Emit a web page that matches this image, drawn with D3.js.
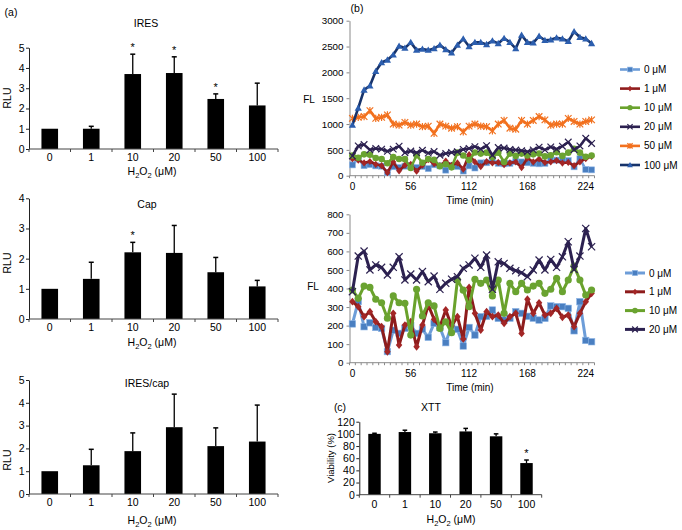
<!DOCTYPE html>
<html><head><meta charset="utf-8">
<script src="https://cdn.jsdelivr.net/npm/d3@7"></script>
<style>body{margin:0;background:#fff} svg text{font-family:"Liberation Sans",Arial,Helvetica,sans-serif;fill:#000}</style>
</head><body><svg id="c" width="682" height="530"></svg>
<script>
// ---------- data ----------
const doses = ["0","1","10","20","50","100"];
const iresMean = [1.0, 1.0, 3.7, 3.75, 2.47, 2.15];
const iresErr  = [0, 0.12, 0.98, 0.8, 0.25, 1.1];
const iresSig  = [false,false,true,true,true,false];
const capMean  = [1.0, 1.33, 2.21, 2.19, 1.55, 1.08];
const capErr   = [0, 0.55, 0.33, 0.91, 0.49, 0.2];
const capSig   = [false,false,true,false,false,false];
const ratioMean= [1.0, 1.26, 1.88, 2.93, 2.1, 2.3];
const ratioErr = [0, 0.7, 0.8, 1.45, 0.8, 1.6];
const ratioSig = [false,false,false,false,false,false];
const xttMean  = [100, 103, 101, 104, 96, 52];
const xttErr   = [1, 3, 2, 5, 4, 5];
const xttSig   = [false,false,false,false,false,true];
const rluTicks5 = [0,1,2,3,4,5];
const rluTicks4 = [0,1,2,3,4];
const xttTicks  = [0,20,40,60,80,100,120];
const flTicksTop = [0,500,1000,1500,2000,2500,3000];
const flTicksBot = [0,100,200,300,400,500,600,700,800];
const timeLabels = [0,56,112,168,224];
const tMin = [0,5.6,11.2,16.8,22.4,28,33.6,39.2,44.8,50.4,56,61.6,67.2,72.8,78.4,84,89.6,95.2,100.8,106.4,112,117.6,123.2,128.8,134.4,140,145.6,151.2,156.8,162.4,168,173.6,179.2,184.8,190.4,196,201.6,207.2,212.8,218.4,224,229.6];
const s0   = [209,330,194,215,190,185,60,175,158,185,200,158,180,137,212,190,108,200,180,90,190,149,248,250,284,239,230,240,275,266,250,240,230,239,306,302,302,293,172,329,120,113];
const s1   = [329,302,248,275,221,194,59,266,95,203,221,86,203,311,234,194,284,198,248,128,406,266,176,275,248,257,212,248,266,158,342,266,323,257,266,293,245,257,194,266,329,374];
const s10  = [392,347,413,406,342,323,240,360,323,320,149,396,252,323,306,185,221,162,446,391,302,450,428,446,360,446,266,428,383,428,392,413,428,374,396,455,383,446,521,446,365,392];
const s20  = [383,575,602,500,527,514,473,514,571,446,478,446,491,437,467,396,428,450,464,509,527,563,514,580,396,544,535,509,496,485,464,500,553,500,557,514,571,652,503,575,724,625];
const s50  = [1110,1130,1145,1260,1110,1130,1175,1000,980,1030,980,1000,950,960,820,1000,960,920,950,850,960,1000,960,950,870,1000,1070,920,900,1070,1000,1070,1145,1080,980,1000,1000,1110,1050,1000,1050,1080];
const s100 = [980,1310,1660,1740,2020,2190,2240,2340,2510,2470,2580,2430,2450,2430,2460,2530,2440,2380,2530,2650,2500,2580,2580,2540,2610,2560,2660,2580,2460,2720,2580,2570,2700,2620,2630,2670,2650,2600,2790,2680,2650,2560];
const seriesNames = ["0 μM","1 μM","10 μM","20 μM","50 μM","100 μM"];

// ---------- helpers ----------
const svg = d3.select("#c");
function txt(g, x, y, s, size, anchor) {
  return g.append("text").attr("x",x).attr("y",y).attr("font-size",size||10.5)
    .attr("text-anchor",anchor||"middle").text(s);
}
function h2o2(g, cx, y) {
  const t = g.append("text").attr("x",cx).attr("y",y).attr("text-anchor","middle").attr("font-size",10.5);
  t.append("tspan").text("H");
  t.append("tspan").attr("font-size",7.5).attr("dy",2.5).text("2");
  t.append("tspan").attr("dy",-2.5).text("O");
  t.append("tspan").attr("font-size",7.5).attr("dy",2.5).text("2");
  t.append("tspan").attr("dy",-2.5).text(" (μM)");
}
function styleAxis(a, color, size) {
  a.attr("font-family",null).attr("font-size",null);
  a.selectAll("path,line").attr("stroke",color);
  a.selectAll("text").attr("font-size",size).attr("fill","#000");
}

function barPanel(o) {
  const g = svg.append("g");
  const x = d3.scaleBand().domain(doses).range([o.xl,o.xr]).paddingInner(o.pad).paddingOuter(o.pad/2);
  const y = d3.scaleLinear().domain([0,o.max]).range([o.yb,o.yt]);
  g.selectAll("rect").data(o.mean).join("rect")
    .attr("x",(d,i)=>x(doses[i])).attr("width",x.bandwidth())
    .attr("y",d=>y(d)).attr("height",d=>o.yb-y(d)).attr("fill","#000");
  o.err.forEach((e,i)=>{
    const cx = x(doses[i])+x.bandwidth()/2;
    const top = y(o.mean[i]+e);
    if (e>0) {
      g.append("line").attr("x1",cx).attr("x2",cx).attr("y1",y(o.mean[i])).attr("y2",top).attr("stroke","#000").attr("stroke-width",1.3);
      g.append("line").attr("x1",cx-o.cap).attr("x2",cx+o.cap).attr("y1",top).attr("y2",top).attr("stroke","#000").attr("stroke-width",1.5);
    }
    if (o.sig[i]) txt(g,cx,top-3,"*",11);
  });
  const ya = g.append("g").attr("transform",`translate(${o.xl},0)`)
    .call(d3.axisLeft(y).tickValues(o.ticks).tickSize(3).tickPadding(o.ypad).tickSizeOuter(0).tickFormat(d3.format("d")));
  styleAxis(ya,"#222",10.5);
  const xa = g.append("g").attr("transform",`translate(0,${o.yb})`)
    .call(d3.axisBottom(x).tickSize(0).tickPadding(o.xpad));
  styleAxis(xa,"#444",10.5);
  xa.select(".domain").remove();
  g.append("line").attr("x1",o.xl).attr("x2",o.xr).attr("y1",o.yb).attr("y2",o.yb).attr("stroke","#444");
  const st = x.step();
  for (let i=0;i<=doses.length;i++) {
    g.append("line").attr("x1",o.xl+i*st).attr("x2",o.xl+i*st).attr("y1",o.yb).attr("y2",o.yb+3).attr("stroke","#444");
  }
  return g;
}

// ---------- panel (a) ----------
txt(svg,11,16,"(a)",10.5);
let g;
g = barPanel({xl:29,xr:278,yb:149,yt:47.7,max:5,ticks:rluTicks5,mean:iresMean,err:iresErr,sig:iresSig,pad:0.6,cap:2.5,ypad:1.5,xpad:4.5});
txt(g,146,27,"IRES",10.5);
h2o2(g,152,175);
g.append("text").attr("transform","translate(11,98) rotate(-90)").attr("text-anchor","middle").attr("font-size",10.5).text("RLU");

g = barPanel({xl:29,xr:278,yb:319,yt:198.3,max:4,ticks:rluTicks4,mean:capMean,err:capErr,sig:capSig,pad:0.6,cap:2.5,ypad:1.5,xpad:4.5});
txt(g,147,208,"Cap",10.5);
h2o2(g,152,346);
g.append("text").attr("transform","translate(11,263) rotate(-90)").attr("text-anchor","middle").attr("font-size",10.5).text("RLU");

g = barPanel({xl:29,xr:278,yb:494,yt:380,max:5,ticks:rluTicks5,mean:ratioMean,err:ratioErr,sig:ratioSig,pad:0.6,cap:2.5,ypad:1.5,xpad:4.5});
txt(g,147,387,"IRES/cap",10.5);
h2o2(g,152,524);
g.append("text").attr("transform","translate(11,460) rotate(-90)").attr("text-anchor","middle").attr("font-size",10.5).text("RLU");

// ---------- panel (c) ----------
txt(svg,340,411,"(c)",10.5);
g = barPanel({xl:359.3,xr:541.7,yb:494.7,yt:421.7,max:120,ticks:xttTicks,mean:xttMean,err:xttErr,sig:xttSig,pad:0.59,cap:2.3,ypad:1.5,xpad:5.5});
txt(g,431,410.5,"XTT",10.5);
h2o2(g,451,523);
g.append("text").attr("transform","translate(334,458) rotate(-90)").attr("text-anchor","middle").attr("font-size",9.5).text("Viability (%)");

// ---------- panel (b) ----------
txt(svg,357,12,"(b)",10.5);
const lineColors = ["#6d9dd8","#8e1c1c","#6aa22c","#2c2150","#f2711f","#17336b"];
const markFill   = ["#4a7fc1","#a32626","#6aa331","#2c2150","#f2711f","#2c5eae"];
const markType   = ["square","diamond","circle","x","star","triangle"];

function drawMarker(g, type, cx, cy, s, i) {
  const c = markFill[i];
  if (type==="square") g.append("rect").attr("x",cx-s/2).attr("y",cy-s/2).attr("width",s).attr("height",s).attr("fill",c).attr("stroke","#8fb6e6").attr("stroke-width",0.6);
  else if (type==="diamond") g.append("path").attr("d",`M${cx},${cy-s*0.6}L${cx+s*0.5},${cy}L${cx},${cy+s*0.6}L${cx-s*0.5},${cy}Z`).attr("fill",c);
  else if (type==="circle") g.append("circle").attr("cx",cx).attr("cy",cy).attr("r",s*0.55).attr("fill",c);
  else if (type==="triangle") g.append("path").attr("d",`M${cx},${cy-s*0.6}L${cx+s*0.6},${cy+s*0.45}L${cx-s*0.6},${cy+s*0.45}Z`).attr("fill",c);
  else if (type==="x") {
    const h=s*0.55;
    g.append("path").attr("d",`M${cx-h},${cy-h}L${cx+h},${cy+h}M${cx-h},${cy+h}L${cx+h},${cy-h}`).attr("stroke",c).attr("stroke-width",1.2);
  } else if (type==="star") {
    const h=s*0.55;
    g.append("path").attr("d",`M${cx-h},${cy-h}L${cx+h},${cy+h}M${cx-h},${cy+h}L${cx+h},${cy-h}M${cx},${cy-h*1.1}L${cx},${cy+h*1.1}`).attr("stroke",c).attr("stroke-width",1.2);
  }
}

function linePanel(o) {
  const g = svg.append("g");
  const x = d3.scaleBand().domain(tMin).range([349.5,594.5]).padding(0);
  const y = d3.scaleLinear().domain([0,o.max]).range([o.yb,o.yt]);
  const ya = g.append("g").attr("transform","translate(349.5,0)")
    .call(d3.axisLeft(y).tickValues(o.ticks).tickSize(3).tickPadding(3).tickSizeOuter(0).tickFormat(d3.format("d")));
  styleAxis(ya,"#8a8a8a",9.8);
  const xa = g.append("g").attr("transform",`translate(0,${o.yb})`)
    .call(d3.axisBottom(x).tickValues(tMin.filter(t=>timeLabels.includes(t))).tickSize(0).tickPadding(7).tickFormat(d3.format("d")));
  styleAxis(xa,"#8a8a8a",10);
  xa.select(".domain").remove();
  g.append("line").attr("x1",349.5).attr("x2",594.5).attr("y1",o.yb).attr("y2",o.yb).attr("stroke","#8a8a8a");
  for (let i=0;i<=tMin.length;i++) {
    const xx = 349.5 + i*x.step();
    g.append("line").attr("x1",xx).attr("x2",xx).attr("y1",o.yb).attr("y2",o.yb+2.5).attr("stroke","#8a8a8a");
  }
  const cx = t => x(t)+x.bandwidth()/2;
  o.series.forEach(k=>{
    const data = o.data[k];
    g.append("path").datum(data).attr("fill","none").attr("stroke",lineColors[k]).attr("stroke-width",o.lw)
      .attr("stroke-linejoin","round")
      .attr("d",d3.line().x((d,i)=>cx(tMin[i])).y(d=>y(d)));
    data.forEach((d,i)=>drawMarker(g,markType[k],cx(tMin[i]),y(d),o.ms,k));
  });
  // legend
  o.series.forEach((k,j)=>{
    const ly = o.ly + j*o.lstep;
    g.append("line").attr("x1",o.lx).attr("x2",o.lx+20).attr("y1",ly).attr("y2",ly).attr("stroke",lineColors[k]).attr("stroke-width",o.lw);
    drawMarker(g,markType[k],o.lx+10,ly,o.ms*0.8,k);
    txt(g,o.lx+24,ly+3.5,seriesNames[k],10,"start");
  });
  txt(g,o.flx,o.fly,"FL",10);
  txt(g,470,o.yb+28,"Time (min)",10);
  return g;
}
const allSeries = [s0,s1,s10,s20,s50,s100];
linePanel({max:3000,yb:175.7,yt:20.7,ticks:flTicksTop,data:allSeries,series:[0,1,2,3,4,5],lw:2.6,ms:6,lx:620,ly:69.5,lstep:19.1,flx:309,fly:103});
linePanel({max:800,yb:362.7,yt:214.3,ticks:flTicksBot,data:allSeries,series:[0,1,2,3],lw:3,ms:6.5,lx:625,ly:273,lstep:18.8,flx:313,fly:290});
</script></body></html>
